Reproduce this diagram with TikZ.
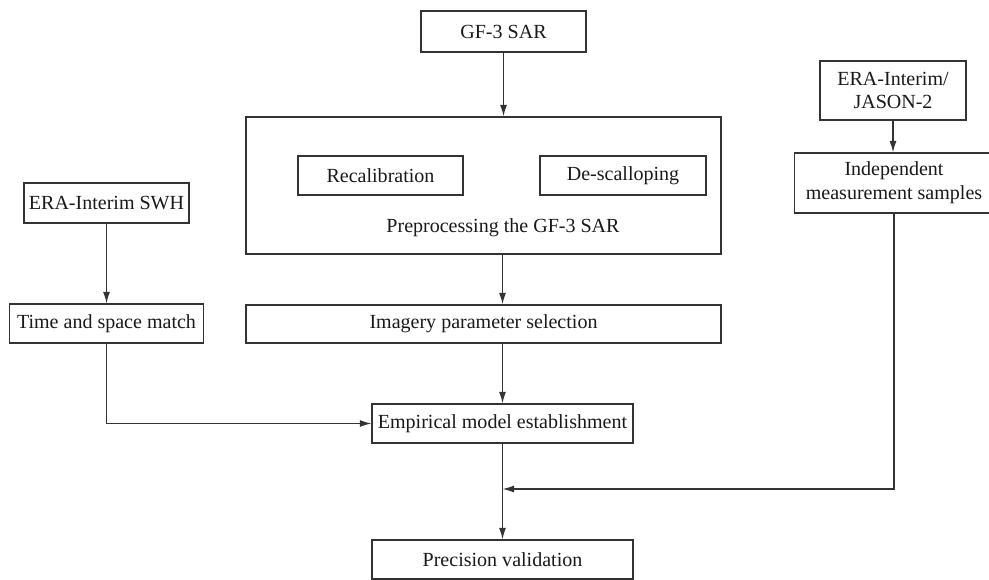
\documentclass[tikz,border=0pt]{standalone}
\usepackage{fontspec}
\setmainfont{Liberation Serif}
\usetikzlibrary{arrows.meta}
\begin{document}
\begin{tikzpicture}[
      x=0.02cm, y=-0.02cm,
      every node/.style={font=\fontsize{11.4}{13.5}\selectfont, align=center, text=black!90},
      box/.style={draw=black!80, line width=0.75pt, inner sep=0pt, minimum height=0.78cm},
      flow/.style={draw=black!80, line width=0.75pt, -{Latex[length=2.3mm, width=1.4mm]}}
    ]
    \useasboundingbox (0,0) rectangle (989,580);

    % Main column
    \node[box, minimum width=3.3cm, minimum height=0.82cm] (gf3) at (503.5,31.5) {GF-3 SAR};
    \node[box, minimum width=9.5cm, minimum height=2.74cm] (pre) at (483.5,185.5) {};
    \node[box, minimum width=3.3cm] (recal) at (380.5,175.5) {Recalibration};
    \node[box, minimum width=3.32cm] (descal) at (623,175.5) {De-scalloping};
    \node (pretext) at (503,228) {Preprocessing the GF-3 SAR};
    \node[box, minimum width=9.5cm, minimum height=0.76cm] (img) at (483.5,324) {Imagery parameter selection};
    \node[box, minimum width=5.22cm] (emp) at (502.5,423.5) {Empirical model establishment};
    \node[box, minimum width=5.22cm] (prec) at (502.5,559.5) {Precision validation};

    % Left column
    \node[box, minimum width=3.3cm, minimum height=0.8cm] (swh) at (106.5,203) {ERA-Interim SWH};
    \node[box, minimum width=3.88cm] (match) at (106.5,323.5) {Time and space match};

    % Right column
    \node[box, minimum width=2.92cm, minimum height=1.18cm] (jason) at (893,90.5) {ERA-Interim/\\JASON-2};
    \node[box, minimum width=3.98cm, minimum height=1.2cm] (indep) at (894,183) {Independent\\measurement samples};
    \coordinate (join) at (502.5,489);

    % Connectors
    \draw[flow] (gf3.south) -- (gf3.south |- pre.north);
    \draw[flow] (emp.north |- pre.south) -- (emp.north |- img.north);
    \draw[flow] (emp.north |- img.south) -- (emp.north);
    \draw[flow] (swh.south) -- (match.north);
    \draw[flow] (match.south) |- (emp.west);
    \draw[flow] (jason.south) -- (jason.south |- indep.north);
    \draw[flow] (indep.south) |- (join);
    \draw[flow] (emp.south) -- (prec.north);

\end{tikzpicture}
\end{document}
